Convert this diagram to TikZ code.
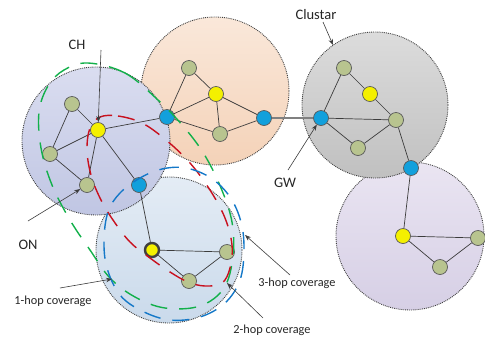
\documentclass[tikz,border=0pt]{standalone}
\usepackage{fontspec}
\setmainfont{Carlito}
\usetikzlibrary{arrows.meta}
\definecolor{edgec}{HTML}{3C3C3C}
\definecolor{greenn}{HTML}{B8C48F}
\definecolor{yellown}{HTML}{F4F000}
\definecolor{bluen}{HTML}{12A0DC}
\definecolor{covg}{HTML}{12B04A}
\definecolor{covr}{HTML}{C8101E}
\definecolor{covb}{HTML}{1478C8}
\pgfdeclarelayer{back}
\pgfsetlayers{back,main}
\tikzset{
  zone/.style={circle, draw=black!75, densely dotted, line width=0.9pt, inner sep=0pt},
  gnode/.style={circle, draw=black!65, line width=0.7pt, fill=greenn, minimum size=15pt, inner sep=0pt},
  ynode/.style={circle, draw=black!65, line width=0.7pt, fill=yellown, minimum size=15pt, inner sep=0pt},
  bnode/.style={circle, draw=black!65, line width=0.7pt, fill=bluen, minimum size=15pt, inner sep=0pt},
  hnode/.style={circle, draw=black!75, line width=2.4pt, fill=yellown, minimum size=14pt, inner sep=0pt},
  link/.style={draw=edgec, line width=0.7pt},
  pointer/.style={draw=edgec, line width=0.6pt, -{Stealth[length=6pt,width=4.5pt]}},
  lbl/.style={text=black!85, inner sep=0pt},
  biglbl/.style={lbl, font=\fontsize{14.5}{16}\selectfont},
  smalllbl/.style={lbl, font=\fontsize{12.3}{14}\selectfont},
  cov/.style={line width=1.4pt, dash pattern=on 17pt off 12pt},
}
\begin{document}
\begin{tikzpicture}[x=1pt,y=-1pt]
\useasboundingbox (0,0) rectangle (485,341);
% zones
\begin{pgfonlayer}{back}
\node[zone, minimum size=148pt, top color={rgb,255:red,234;green,229;blue,242}, bottom color={rgb,255:red,214;green,207;blue,229}] (cv) at (410,236) {};
\node[zone, minimum size=146pt, top color={rgb,255:red,220;green,220;blue,220}, bottom color={rgb,255:red,192;green,192;blue,192}] (cg) at (375,105) {};
\node[zone, minimum size=146pt, top color={rgb,255:red,228;green,236;blue,245}, bottom color={rgb,255:red,202;green,218;blue,235}] (cb) at (169,250) {};
\node[zone, minimum size=148pt, top color={rgb,255:red,250;green,232;blue,218}, bottom color={rgb,255:red,244;green,210;blue,184}] (cp) at (215,91) {};
\node[zone, minimum size=148pt, top color={rgb,255:red,218;green,221;blue,240}, bottom color={rgb,255:red,192;green,198;blue,227}] (cl) at (96,141) {};
\end{pgfonlayer}
% nodes
\node[gnode] (L1) at (72,104) {};
\node[ynode] (LC) at (98,130) {};
\node[gnode] (L2) at (50,154) {};
\node[gnode] (L3) at (87,185) {};
\node[bnode] (LB) at (139,185) {};
\node[bnode] (PB1) at (167,117) {};
\node[gnode] (P1) at (189,68) {};
\node[ynode] (PC) at (216,94) {};
\node[gnode] (P2) at (220,134) {};
\node[bnode] (PB2) at (264,118) {};
\node[gnode] (G1) at (344,68) {};
\node[ynode] (GC) at (370,94) {};
\node[gnode] (G2) at (396,120) {};
\node[bnode] (GB1) at (321,118) {};
\node[gnode] (G3) at (358,148) {};
\node[bnode] (GB2) at (411,168) {};
\node[ynode] (VC) at (403,236) {};
\node[gnode] (V1) at (478,238) {};
\node[gnode] (V2) at (440,267) {};
\node[hnode] (BC) at (152,250) {};
\node[gnode] (B1) at (227,252) {};
\node[gnode] (B2) at (189,281) {};
% links behind nodes
\begin{pgfonlayer}{back}
\path[link] (L1) -- (LC) (L1) -- (L2) (L2) -- (LC) (L2) -- (L3) (LC) -- (L3) (LC) -- (LB) (LC) -- (PB1)
  (LB) -- (BC)
  (PB1) -- (P1) (P1) -- (PC) (PB1) -- (PC) (PC) -- (P2) (PB1) -- (P2) (P2) -- (PB2) (PC) -- (PB2)
  (GB1) -- (G1) (G1) -- (GC) (GC) -- (G2) (GB1) -- (G2) (GB1) -- (G3) (G3) -- (G2) (G2) -- (GB2)
  (GB2) -- (VC) (VC) -- (V1) (VC) -- (V2) (V2) -- (V1)
  (BC) -- (B1) (BC) -- (B2) (B2) -- (B1);
\draw[draw=black!50, line width=1.6pt] (PB2) -- (GB1);
\end{pgfonlayer}
% coverage curves
\draw[cov, covg] plot[smooth cycle, tension=0.6] coordinates {(88,63) (125,73) (158,100) (183,126) (204,154) (221,188) (232,222) (233,256) (224,288) (200,306) (165,308) (135,297) (110,278) (90,250) (70,220) (52,185) (41,148) (39,112) (48,86) (64,70)};
\draw[cov, covr] plot[smooth cycle, tension=0.6] coordinates {(100,117) (118,116) (142,123) (166,140) (190,163) (210,190) (225,218) (232,245) (230,268) (222,283) (205,286) (188,282) (170,272) (150,258) (130,242) (113,220) (100,198) (91,175) (87,150) (90,128)};
\draw[cov, covb] plot[smooth cycle, tension=0.6] coordinates {(140,178) (162,169) (186,168) (211,178) (230,197) (241,222) (244,250) (240,280) (225,303) (200,317) (170,320) (142,311) (120,295) (107,268) (104,240) (108,212) (120,193)};
% labels and pointers
\node[biglbl] (tCH) at (77,45) {CH};
\node[biglbl] (tCl) at (316,15) {Clustar};
\node[biglbl] (tGW) at (285,183) {GW};
\node[biglbl] (tON) at (28,245) {ON};
\node[smalllbl] (t1) at (53,301) {1-hop coverage};
\node[smalllbl] (t2) at (272,330) {2-hop coverage};
\node[smalllbl] (t3) at (297,283) {3-hop coverage};
\coordinate (aCH) at (101,50);
\coordinate (aCl) at (323,22);
\coordinate (eCl) at (333,45);
\coordinate (aGW) at (288,170);
\coordinate (aON) at (28,221);
\coordinate (a1) at (60,288);
\coordinate (a2) at (263,318);
\coordinate (a3) at (290,275);
\coordinate (e1) at (112,279);
\coordinate (e2) at (227,283);
\coordinate (e3) at (245,235);
\draw[pointer] (aCH) -- (LC);
\draw[pointer] (aCl) -- (eCl);
\draw[pointer] (aGW) -- (GB1);
\draw[pointer] (aON) -- (L3);
\draw[pointer] (a1) -- (e1);
\draw[pointer] (a2) -- (e2);
\draw[pointer] (a3) -- (e3);
\end{tikzpicture}
\end{document}
